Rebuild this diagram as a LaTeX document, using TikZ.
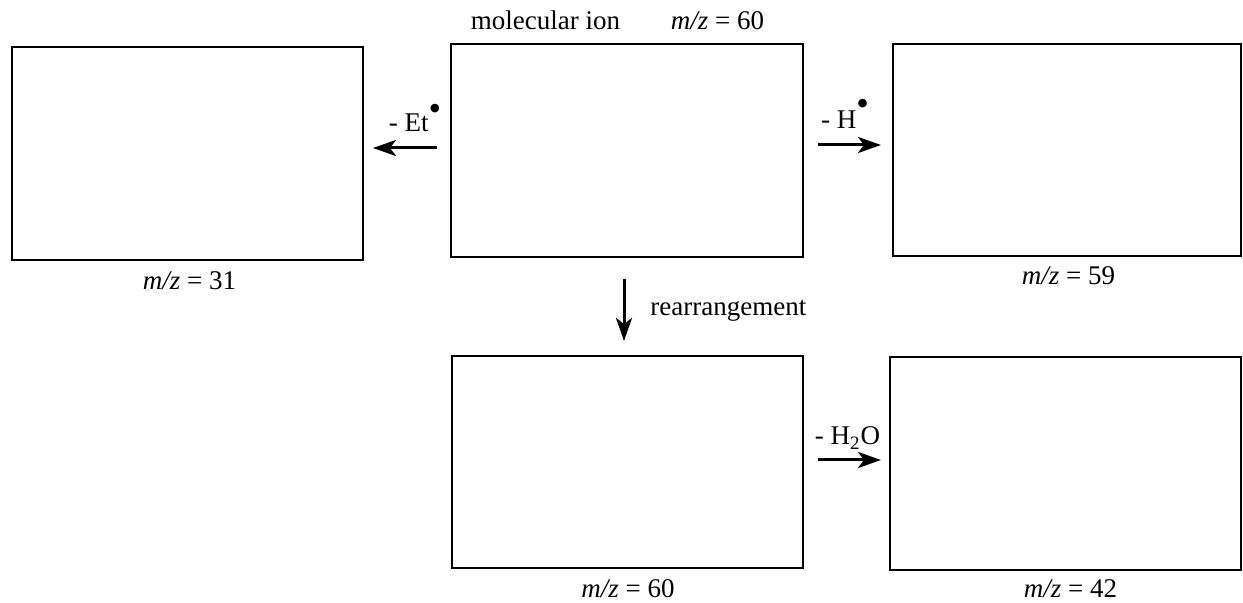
\documentclass[tikz,border=0pt]{standalone}
\usepackage{fontspec}
\setmainfont{Liberation Serif}
\usetikzlibrary{arrows.meta}
\newcommand{\raddot}[1]{\raisebox{#1}{\fontsize{18}{18}\selectfont •}}
\begin{document}
\begin{tikzpicture}[x=0.5pt,y=-0.5pt,
  box/.style={draw,line width=1pt,inner sep=0pt},
  arr/.style={line width=1.5pt,-{Stealth[length=11.5pt,width=8pt,inset=3pt]}},
  lbl/.style={inner sep=0pt,anchor=base,font=\fontsize{13.5}{16}\selectfont}]
\useasboundingbox (0,0) rectangle (1243,603);
% boxes
\node[box,minimum width=175.5pt,minimum height=106.5pt] (lt) at (187.5,153.5) {};
\node[box,minimum width=176pt,minimum height=106.5pt] (tc) at (627,150.5) {};
\node[box,minimum width=174pt,minimum height=106pt] (tr) at (1067,150) {};
\node[box,minimum width=175.5pt,minimum height=106pt] (bc) at (627.5,462) {};
\node[box,minimum width=175.5pt,minimum height=106.5pt] (br) at (1065.5,463.5) {};
% labels
\node[lbl] (mi) at (545.5,30) {molecular ion};
\node[lbl] (m60t) at (717.5,30) {\textit{m/z} = 60};
\node[lbl] (m31) at (189.5,290) {\textit{m/z} = 31};
\node[lbl] (m59) at (1068.5,285) {\textit{m/z} = 59};
\node[lbl] (m60b) at (628,598) {\textit{m/z} = 60};
\node[lbl] (m42) at (1070.5,598) {\textit{m/z} = 42};
\node[lbl] (et) at (415,132) {- Et\raddot{5.8pt}};
\node[lbl] (h) at (845,129) {- H\raddot{6.8pt}};
\node[lbl] (h2o) at (847.5,445) {- H\textsubscript{2}O};
\node[lbl,anchor=base west] (re) at (650,316) {rearrangement};
% arrows
\draw[arr] ([xshift=-6.5pt]tc.west |- 0,148) -- ([xshift=4.5pt]lt.east |- 0,148);
\draw[arr] ([xshift=7pt]tc.east |- 0,145) -- ([xshift=-5.5pt]tr.west |- 0,145);
\draw[arr] ([yshift=-10.5pt]tc.south -| 624,0) -- ([yshift=7pt]bc.north -| 624,0);
\draw[arr] ([xshift=7pt]bc.east |- 0,460) -- ([xshift=-4pt]br.west |- 0,460);
\end{tikzpicture}
\end{document}
